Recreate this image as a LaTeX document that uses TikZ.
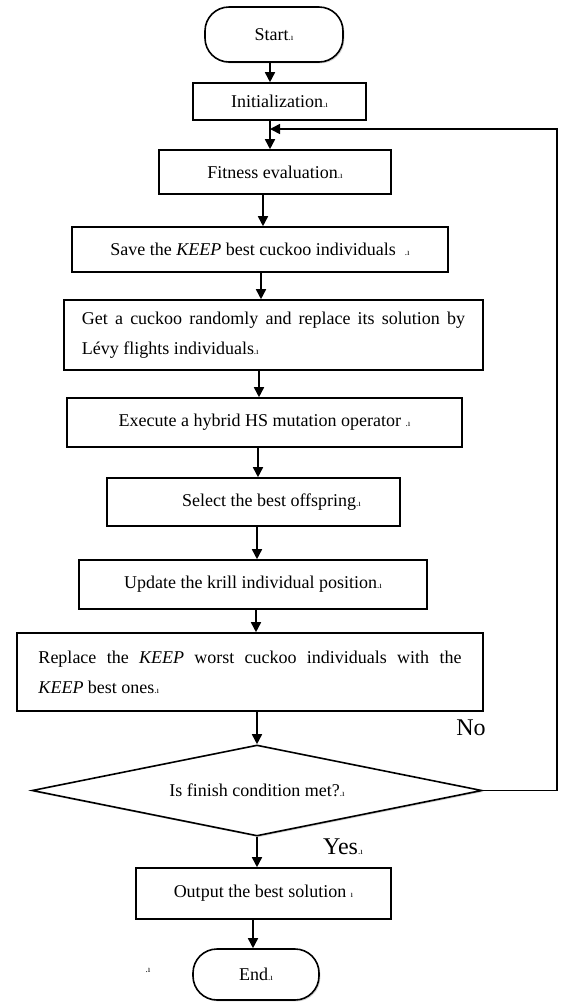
\documentclass[tikz,border=0pt]{standalone}
\usepackage{fontspec}
\setmainfont{Liberation Serif}
\usetikzlibrary{arrows.meta,shapes.geometric,shadows}
\newcommand\pmk{{\fontsize{4.5}{5}\selectfont .ı}}
\newcommand\pmi{{\fontsize{4.5}{5}\selectfont ı}}
\begin{document}
\begin{tikzpicture}[x=0.5pt,y=-0.5pt,
  box/.style={draw, line width=0.8pt, fill=white, inner sep=0pt,
    font=\fontsize{9}{15}\selectfont,
    drop shadow={shadow xshift=0.7pt,shadow yshift=-0.7pt,opacity=0.35}},
  sz/.style 2 args={minimum width=#1*0.5pt, minimum height=#2*0.5pt},
  term/.style={box, rounded corners=12pt},
  arr/.style={-{Triangle[length=5pt,width=5pt]}, line width=0.8pt},
  lbl/.style={inner sep=0pt, font=\fontsize{9}{11}\selectfont},
]
\useasboundingbox (0,0) rectangle (562,1003);

\node[term, sz={138}{55}] (start) at (274,34.5) {Start\pmk};
\node[box, sz={173}{37}] (init) at (279.5,101.5) {Initialization\pmk};
\node[box, sz={232}{44}] (fit) at (275,172) {Fitness evaluation\pmk};
\node[box, sz={376}{45}] (save) at (260,249.5) {Save the \textit{KEEP} best cuckoo individuals~~\pmk};
\node[box, sz={419}{70}, align=left] (get) at (273.5,335)
  {\makebox[191.5pt][s]{Get a cuckoo randomly and replace its solution by}\\Lévy flights individuals\pmk};
\node[box, sz={395}{49}] (exec) at (264.5,422.5) {Execute a hybrid HS mutation operator \pmk};
\node[box, sz={293}{48}] (sel) at (253.5,502) {\hspace*{18pt}Select the best offspring\pmk};
\node[box, sz={348}{49}] (upd) at (253,584.5) {Update the krill individual position\pmk};
\node[box, sz={466}{78}, align=left] (rep) at (250,672)
  {\makebox[211.5pt][s]{Replace the \textit{KEEP} worst cuckoo individuals with the}\\\textit{KEEP} best ones\pmk};
\node[box, diamond, aspect=5, sz={450}{91}] (dia) at (257,790.5) {Is finish condition met?\pmk};
\node[box, sz={255}{51}] (out) at (263.5,893.5) {Output the best solution \pmi};
\node[term, sz={126}{51}] (end) at (256,974.5) {End\pmk};

\node[inner sep=0pt, font=\fontsize{12}{14}\selectfont] (no) at (471,728) {No};
\node[inner sep=0pt, font=\fontsize{12}{14}\selectfont] (yes) at (343,847) {Yes\pmk};
\node[lbl] (stray) at (148,970) {\pmk};

\coordinate (a1) at (270,0);
\coordinate (a2) at (263,0);
\coordinate (a3) at (261,0);
\coordinate (a4) at (259,0);
\coordinate (a5) at (258,0);
\coordinate (a6) at (257,0);
\coordinate (a7) at (256,0);
\coordinate (a8) at (253,0);
\coordinate (fb) at (557,129);

\draw[arr] (start.south -| a1) -- (init.north -| a1);
\draw[arr] (init.south -| a1) -- (fit.north -| a1);
\draw[arr] (fit.south -| a2) -- (save.north -| a2);
\draw[arr] (save.south -| a3) -- (get.north -| a3);
\draw[arr] (get.south -| a4) -- (exec.north -| a4);
\draw[arr] (exec.south -| a5) -- (sel.north -| a5);
\draw[arr] (sel.south -| a6) -- (upd.north -| a6);
\draw[arr] (upd.south -| a7) -- (rep.north -| a7);
\draw[arr] (rep.south -| dia.north) -- (dia.north);
\draw[arr] (dia.south) -- (out.north -| dia.south);
\draw[arr] (out.south -| a8) -- (end.north -| a8);
\draw[arr] (dia.east) -| (fb) -- (fb -| a1);
\end{tikzpicture}
\end{document}
